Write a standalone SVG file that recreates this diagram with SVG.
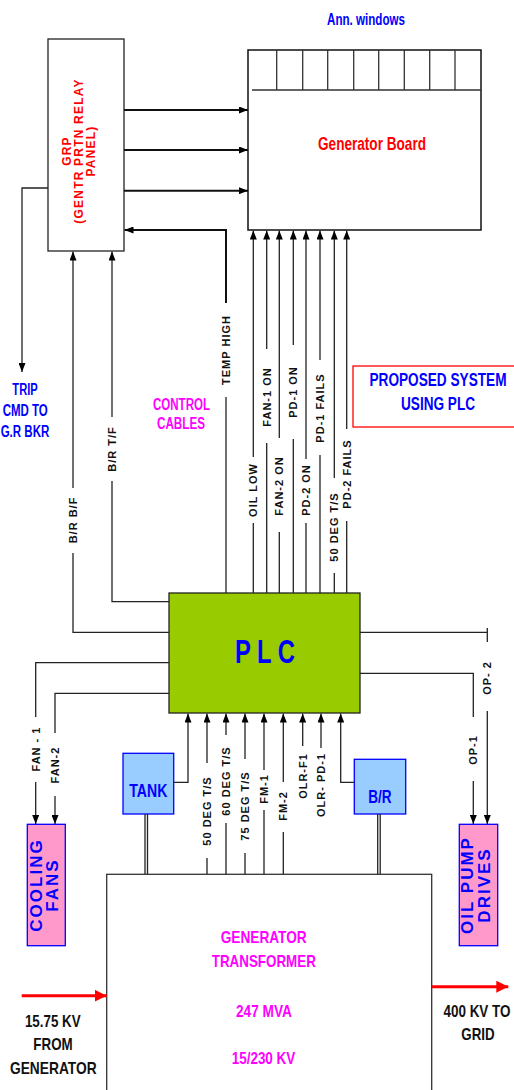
<svg xmlns="http://www.w3.org/2000/svg" width="514" height="1090" viewBox="0 0 514 1090">
<defs>
<marker id="ah" markerUnits="userSpaceOnUse" markerWidth="9" markerHeight="7" refX="9" refY="3.5" orient="auto"><path d="M0,0 L9,3.5 L0,7 z" fill="#000"/></marker>
<marker id="rah" markerUnits="userSpaceOnUse" markerWidth="12" markerHeight="12" refX="12" refY="6" orient="auto"><path d="M0,0 L12,6 L0,12 z" fill="#FF0000"/></marker>
<style>
.box{fill:#fff;stroke:#222;stroke-width:1.3}
.c{fill:none;stroke:#222;stroke-width:1.3}
.ca{fill:none;stroke:#222;stroke-width:1.3;marker-end:url(#ah)}
.th{fill:none;stroke:#111;stroke-width:2;marker-end:url(#ah)}
.lbl{font-family:"Liberation Sans",Arial,sans-serif;font-weight:bold;font-size:11px;letter-spacing:1px;fill:#111;text-anchor:middle;dominant-baseline:central}
.nar{font-family:"Liberation Sans Narrow","Liberation Sans",Arial,sans-serif;font-weight:bold;text-anchor:middle}
.wide{font-family:"Liberation Sans",Arial,sans-serif;font-weight:bold;text-anchor:middle;dominant-baseline:central}
</style>
</defs>

<g id="grp">
<rect class="box" x="48" y="39" width="76" height="212"/>
<g class="wide" fill="#FF0000" font-size="12" letter-spacing="1.2">
<text transform="translate(67,151) rotate(-90)">GRP</text>
<text transform="translate(79,151) rotate(-90)">(GENTR PRTN RELAY</text>
<text transform="translate(91,151) rotate(-90)">PANEL)</text>
</g>
</g>

<g id="generator-board">
<rect x="248" y="50" width="233" height="180" fill="#fff" stroke="#111" stroke-width="1.5"/>
<path d="M252,90 H481 M276.7,50 V90 M302.7,50 V90 M327.7,50 V90 M353.7,50 V90 M378.7,50 V90 M404.3,50 V90 M429.7,50 V90 M455,50 V90" fill="none" stroke="#333" stroke-width="1.3"/>
<text class="nar" x="366" y="25" font-size="17" fill="#0000FF" textLength="78" lengthAdjust="spacingAndGlyphs">Ann. windows</text>
<text class="nar" x="372" y="150" font-size="19" fill="#FF0000" textLength="108" lengthAdjust="spacingAndGlyphs">Generator Board</text>
</g>

<g id="plc">
<rect x="169" y="593" width="191" height="120" fill="#99CC00" stroke="#222" stroke-width="1.3"/>
<text class="nar" x="265" y="663" font-size="33" fill="#0000FF" textLength="60" lengthAdjust="spacingAndGlyphs">P L C</text>
</g>

<g id="cooling-fans">
<rect x="27.3" y="824.3" width="38" height="121.4" fill="#FF99CC" stroke="#0000FF" stroke-width="1.3"/>
<g class="wide" fill="#0000FF" font-size="17" letter-spacing="2">
<text transform="translate(36.3,885) rotate(-90)">COOLING</text>
<text transform="translate(52.5,885) rotate(-90)">FANS</text>
</g>
</g>

<g id="oil-pump-drives">
<rect x="459.3" y="824.3" width="38.4" height="121.4" fill="#FF99CC" stroke="#0000FF" stroke-width="1.3"/>
<g class="wide" fill="#0000FF" font-size="17" letter-spacing="2">
<text transform="translate(467.5,885) rotate(-90)">OIL PUMP</text>
<text transform="translate(484,885) rotate(-90)">DRIVES</text>
</g>
</g>

<g id="tank">
<rect x="123" y="753.3" width="50.7" height="60.7" fill="#99CCFF" stroke="#0000FF" stroke-width="1.3"/>
<text class="nar" x="148.3" y="796.7" font-size="18" fill="#0000FF" textLength="38" lengthAdjust="spacingAndGlyphs">TANK</text>
</g>

<g id="br">
<rect x="354.3" y="759.3" width="51.4" height="54.7" fill="#99CCFF" stroke="#0000FF" stroke-width="1.3"/>
<text class="nar" x="380" y="803" font-size="18" fill="#0000FF" textLength="23.3" lengthAdjust="spacingAndGlyphs">B/R</text>
</g>

<g id="generator-transformer">
<rect x="106.7" y="874.3" width="325" height="240" fill="#fff" stroke="#333" stroke-width="1.3"/>
<g class="nar" fill="#FF00FF" font-size="17">
<text x="263.7" y="943" textLength="86" lengthAdjust="spacingAndGlyphs">GENERATOR</text>
<text x="263.8" y="967" textLength="104" lengthAdjust="spacingAndGlyphs">TRANSFORMER</text>
<text x="264" y="1016.7" textLength="56" lengthAdjust="spacingAndGlyphs">247 MVA</text>
<text x="263.5" y="1064" textLength="63.7" lengthAdjust="spacingAndGlyphs">15/230 KV</text>
</g>
</g>

<g id="proposed-system">
<rect x="353" y="366" width="170" height="61" fill="none" stroke="#FF0000" stroke-width="1.3"/>
<text class="nar" x="438" y="386" font-size="18" fill="#0000FF" textLength="137" lengthAdjust="spacingAndGlyphs">PROPOSED SYSTEM</text>
<text class="nar" x="438" y="410" font-size="18" fill="#0000FF" textLength="74" lengthAdjust="spacingAndGlyphs">USING PLC</text>
</g>

<g id="free-labels" class="nar">
<g fill="#FF00FF" font-size="16">
<text x="181.5" y="410" textLength="57" lengthAdjust="spacingAndGlyphs">CONTROL</text>
<text x="181" y="429" textLength="48" lengthAdjust="spacingAndGlyphs">CABLES</text>
</g>
<g fill="#0000FF" font-size="16">
<text x="25" y="395" textLength="25.3" lengthAdjust="spacingAndGlyphs">TRIP</text>
<text x="25.2" y="415.5" textLength="45" lengthAdjust="spacingAndGlyphs">CMD TO</text>
<text x="25" y="437" textLength="48.7" lengthAdjust="spacingAndGlyphs">G.R BKR</text>
</g>
<g fill="#111" font-size="17">
<text x="52.8" y="1026.7" textLength="55.7" lengthAdjust="spacingAndGlyphs">15.75 KV</text>
<text x="53" y="1050" textLength="39.3" lengthAdjust="spacingAndGlyphs">FROM</text>
<text x="53.3" y="1074" textLength="86.7" lengthAdjust="spacingAndGlyphs">GENERATOR</text>
<text x="477" y="1016.7" textLength="67" lengthAdjust="spacingAndGlyphs">400 KV TO</text>
<text x="478" y="1040" textLength="33.3" lengthAdjust="spacingAndGlyphs">GRID</text>
</g>
</g>

<g id="connectors">
<path class="th" d="M124,110 H248"/>
<path class="th" d="M124,150 H248"/>
<path class="th" d="M124,190.7 H248"/>
<path class="c" d="M226,593 V397"/>
<path class="th" d="M226,303 V230 H124.5"/>
<path class="ca" d="M48,188 H22 V372"/>
<path class="c" d="M169,601.7 H112 V481"/>
<path class="ca" d="M112,417 V251.5"/>
<path class="c" d="M169,632.3 H73 V553"/>
<path class="ca" d="M73,488 V251.5"/>
<path class="c" d="M253.3,593 V523 M266.7,593 V443 M279.3,593 V532 M293.3,593 V439 M306,593 V523 M320,593 V455 M334.3,593 V573 M346.7,593 V521"/>
<path class="ca" d="M253.3,457 V230.5"/>
<path class="ca" d="M266.7,349 V230.5"/>
<path class="ca" d="M279.3,438 V230.5"/>
<path class="ca" d="M293.3,345 V230.5"/>
<path class="ca" d="M306,459 V230.5"/>
<path class="ca" d="M320,360 V230.5"/>
<path class="ca" d="M334.3,478 V230.5"/>
<path class="ca" d="M346.7,429 V230.5"/>
<path class="c" d="M169,662.7 H35.7 V717 M169,693.3 H55 V733"/>
<path class="ca" d="M35.7,782 V824"/>
<path class="ca" d="M55,796 V824"/>
<path class="c" d="M360,632.3 H487.3 M487.3,628 V642 M360,673.3 H473.3 V717"/>
<path class="ca" d="M487.3,711 V824"/>
<path class="ca" d="M473.3,781 V824"/>
<path class="ca" d="M173.7,782.3 H188 V713.5"/>
<path class="c" d="M207,874 V858 M226,874 V823 M245,874 V853 M264,874 V810 M283.3,874 V832"/>
<path class="ca" d="M207,763 V713.5"/>
<path class="ca" d="M226,735 V713.5"/>
<path class="ca" d="M245,759 V713.5"/>
<path class="ca" d="M264,770 V713.5"/>
<path class="ca" d="M283.3,782 V713.5"/>
<path class="ca" d="M302.7,746 V713.5"/>
<path class="ca" d="M321,748 V713.5"/>
<path class="ca" d="M354.3,782.3 H340.7 V713.5"/>
<path class="c" d="M145,814 V874 M147.5,814 V874 M377.7,814 V874 M380.2,814 V874"/>
<path d="M21.7,995.7 H106.7" fill="none" stroke="#FF0000" stroke-width="3" marker-end="url(#rah)"/>
<path d="M431.7,986.7 H508.3" fill="none" stroke="#FF0000" stroke-width="3" marker-end="url(#rah)"/>
</g>

<g id="connector-labels" class="lbl">
<text transform="translate(226,350) rotate(-90)">TEMP HIGH</text>
<text transform="translate(253.3,490) rotate(-90)">OIL LOW</text>
<text transform="translate(266.7,397) rotate(-90)">FAN-1 ON</text>
<text transform="translate(279.3,486) rotate(-90)">FAN-2 ON</text>
<text transform="translate(293.3,392) rotate(-90)">PD-1 ON</text>
<text transform="translate(306,490) rotate(-90)">PD-2 ON</text>
<text transform="translate(320,408) rotate(-90)">PD-1 FAILS</text>
<text transform="translate(334.3,527) rotate(-90)">50 DEG T/S</text>
<text transform="translate(346.7,474) rotate(-90)">PD-2 FAILS</text>
<text transform="translate(112,449) rotate(-90)">B/R T/F</text>
<text transform="translate(73,520) rotate(-90)">B/R B/F</text>
<text transform="translate(35.7,749) rotate(-90)">FAN - 1</text>
<text transform="translate(55,765) rotate(-90)">FAN-2</text>
<text transform="translate(487.3,678) rotate(-90)">OP- 2</text>
<text transform="translate(473.3,750) rotate(-90)">OP-1</text>
<text transform="translate(207,811) rotate(-90)">50 DEG T/S</text>
<text transform="translate(226,781) rotate(-90)">60 DEG T/S</text>
<text transform="translate(245,806) rotate(-90)">75 DEG T/S</text>
<text transform="translate(264,789) rotate(-90)">FM-1</text>
<text transform="translate(283.3,806) rotate(-90)">FM-2</text>
<text transform="translate(302.7,776) rotate(-90)">OLR-F1</text>
<text transform="translate(321,785) rotate(-90)">OLR- PD-1</text>
</g>
</svg>
